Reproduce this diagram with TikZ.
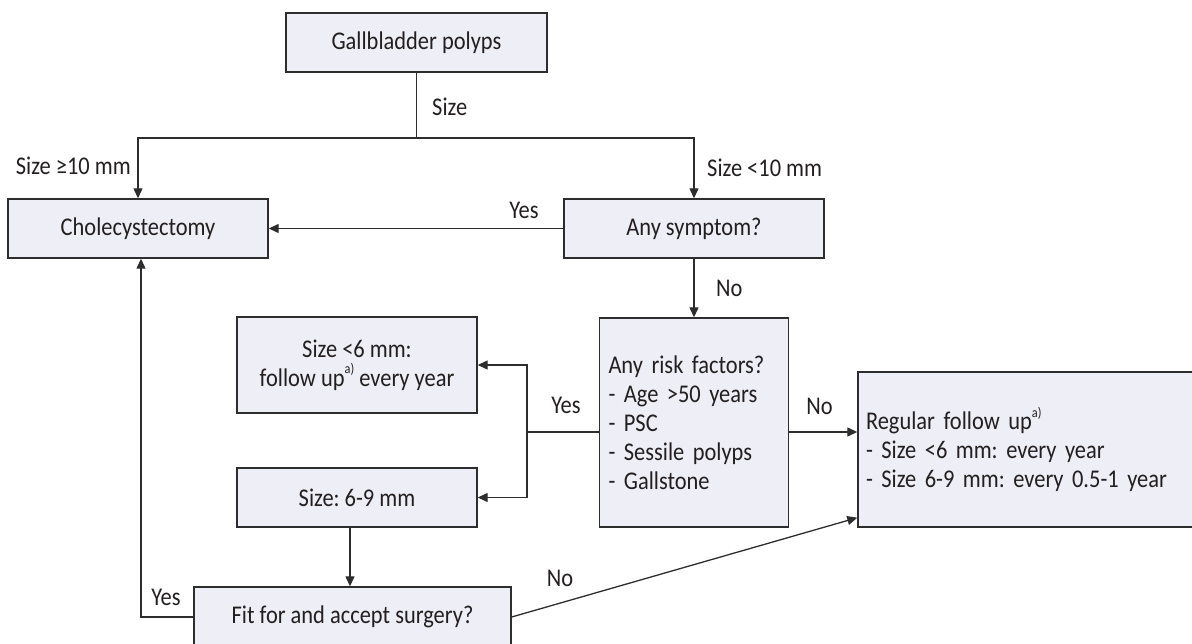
\documentclass[tikz,border=0pt]{standalone}
\usepackage{fontspec}
\setmainfont[FakeStretch=0.88]{Carlito}
\usetikzlibrary{arrows.meta,calc}
\definecolor{boxfill}{RGB}{238,238,247}
\definecolor{linec}{RGB}{45,45,45}
\definecolor{txt}{RGB}{35,31,32}
\newcommand\supa{\raisebox{0.5em}{\fontsize{14}{14}\selectfont a)}}
\frenchspacing
\begin{document}
\begin{tikzpicture}[x=1pt,y=-1pt,
  box/.style={draw=linec, line width=1.4pt, fill=boxfill, text=txt, inner sep=0pt, font=\fontsize{25.5}{29}\selectfont},
  lbl/.style={text=txt, inner sep=0pt, font=\fontsize{25.5}{29}\selectfont},
  conn/.style={draw=linec, line width=1.3pt},
  arr/.style={conn, -{Triangle[length=10pt,width=9pt]}}]
\useasboundingbox (0,0) rectangle (1192,644);
% boxes
\node[box, minimum width=261pt, minimum height=59pt] (gp) at (416.5,42.5) {Gallbladder polyps};
\node[box, minimum width=260pt, minimum height=59pt] (chol) at (138,228.5) {Cholecystectomy};
\node[box, minimum width=260pt, minimum height=59pt] (sym) at (694,228.5) {Any symptom?};
\node[box, minimum width=189pt, minimum height=209pt, text width=171pt, align=left] (risk) at (694,422.5)
  {Any risk factors?\\- Age >50 years\\- PSC\\- Sessile polyps\\- Gallstone};
\node[box, minimum width=340pt, minimum height=155pt, text width=324pt, align=left] (fol) at (1028,449.5)
  {Regular follow up\supa\\- Size <6 mm: every year\\- Size 6-9 mm: every 0.5-1 year};
\node[box, minimum width=240pt, minimum height=96pt, align=center] (s6) at (357,365)
  {Size <6 mm:\\follow up\supa{} every year};
\node[box, minimum width=240pt, minimum height=59pt] (s69) at (357,497.5) {Size: 6-9 mm};
\node[box, minimum width=317pt, minimum height=60pt] (fit) at (352.5,617) {Fit for and accept surgery?};
% labels
\node[lbl, anchor=west] (lsize) at (432,107) {Size};
\node[lbl, anchor=east] (l10a) at (131,166) {Size ≥10 mm};
\node[lbl, anchor=west] (l10b) at (707,168) {Size <10 mm};
\node[lbl] (ly1) at (524,210) {Yes};
\node[lbl, anchor=west] (ln1) at (716,288) {No};
\node[lbl] (ln2) at (819.5,406) {No};
\node[lbl] (ly2) at (566,405) {Yes};
\node[lbl] (ly3) at (166,597) {Yes};
\node[lbl] (ln3) at (560,578) {No};
% connectors
\coordinate (hj) at (416.5,138);
\draw[conn] (gp.south) -- (hj);
\draw[arr] (hj) -| (chol.north);
\draw[arr] (hj) -| (sym.north);
\draw[arr] (sym.west) -- (chol.east);
\draw[arr] (sym.south) -- (risk.north);
\coordinate (rr) at ([yshift=-9.5pt]risk.east);
\draw[arr] (rr) -- (rr -| fol.west);
\coordinate (rl) at ([yshift=-9.5pt]risk.west);
\coordinate (yb) at (527,432);
\draw[conn] (rl) -- (yb);
\draw[arr] (yb) |- (s6.east);
\draw[arr] (yb) |- (s69.east);
\draw[arr] ([xshift=-7pt]s69.south) -- ([xshift=-7pt]s69.south |- fit.north);
\draw[arr] (fit.west) -| ([xshift=3pt]chol.south);
\draw[arr] (fit.east) -- ([yshift=10pt]fol.south west);
\end{tikzpicture}
\end{document}
